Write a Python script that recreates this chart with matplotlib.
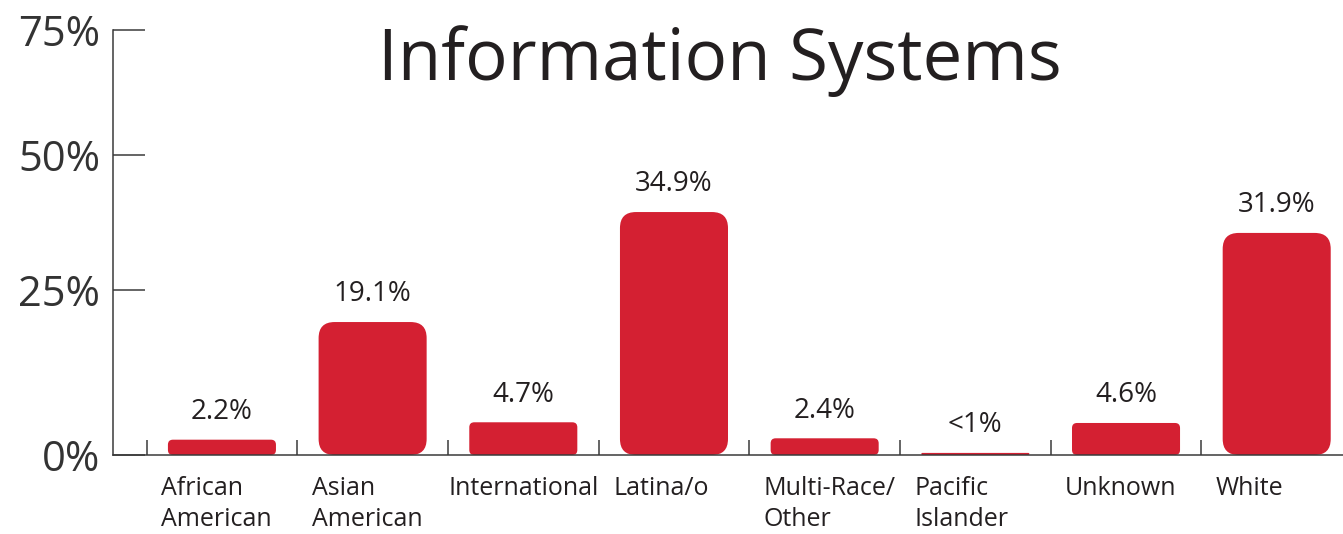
import numpy as np
import matplotlib.pyplot as plt
from matplotlib.patches import FancyBboxPatch

CATEGORIES = ["African\nAmerican", "Asian\nAmerican", "International", "Latina/o",
              "Multi-Race/\nOther", "Pacific\nIslander", "Unknown", "White"]
SHARES = [2.2, 19.1, 4.7, 34.9, 2.4, 0.3, 4.6, 31.9]
SHARE_LABELS = ["2.2%", "19.1%", "4.7%", "34.9%", "2.4%", "<1%", "4.6%", "31.9%"]

# the printed axis is not to scale -- ticks sit where the artwork put them
YTICK_POS = [0, 23.7, 43.1, 61.05]
YTICK_LABELS = ["0%", "25%", "50%", "75%"]

RED = "#d42032"
INK = "#231f20"
FONT = "Open Sans"

W, H = 1343, 534
plt.rcParams['font.family'] = [FONT, 'DejaVu Sans']

fig = plt.figure(figsize=(W / 100, H / 100), dpi=100)
ax = fig.add_axes([113 / W, 79 / H, 1230 / W, 425 / H])
XLIM = (-0.723, 7.44)
YLIM = (0, 61.05)
ax.set_xlim(*XLIM)
ax.set_ylim(*YLIM)

# pixels per data unit, used to keep the rounded corners circular
sx = 1230 / (XLIM[1] - XLIM[0])
sy = 425 / (YLIM[1] - YLIM[0])
bar_w = 0.717

for i, (v, lab) in enumerate(zip(SHARES, SHARE_LABELS)):
    h_px = v * sy
    r_px = 16 if h_px > 60 else min(5, h_px / 2)
    box = FancyBboxPatch((i - bar_w / 2, 0), bar_w, v,
                         boxstyle=f"round,pad=0,rounding_size={r_px / sx}",
                         mutation_aspect=sx / sy,
                         facecolor=RED, edgecolor='none', zorder=1)
    ax.add_patch(box)
    ax.annotate(lab, (i, v), xytext=(0, 20), textcoords='offset points',
                ha='center', va='center', fontsize=20, color=INK)

# category names start just left of each bar; long single words are centred
for i, name in enumerate(CATEGORIES):
    if len(name) > 11 and "\n" not in name:
        xy, dx, ha = (i, 0), 0, 'center'
    else:
        xy, dx, ha = (i - bar_w / 2, 0), -5, 'left'
    ax.annotate(name, xy, xytext=(dx, -15), textcoords='offset points',
                ha=ha, va='top', fontsize=18, color=INK, linespacing=1.35,
                annotation_clip=False)

ax.spines[['top', 'right']].set_visible(False)
for s in ['left', 'bottom']:
    ax.spines[s].set_color('#3a3a3a')
    ax.spines[s].set_linewidth(1.1)

ax.set_yticks(YTICK_POS)
ax.set_yticklabels(YTICK_LABELS, fontsize=30, color='#333333')
ax.tick_params(axis='y', direction='in', length=23, width=1.1, color='#3a3a3a', pad=9)

ax.set_xticks([])
ax.set_xticks(np.arange(len(CATEGORIES)) - 0.5, minor=True)
ax.tick_params(axis='x', which='minor', direction='in', length=10.8, width=1.1,
               color='#3a3a3a', labelbottom=False)

fig.text(720 / W, 1 - 80 / H, "Information Systems", ha='center', va='baseline',
         fontsize=51, color=INK)

fig.savefig("out.png", dpi=100)
